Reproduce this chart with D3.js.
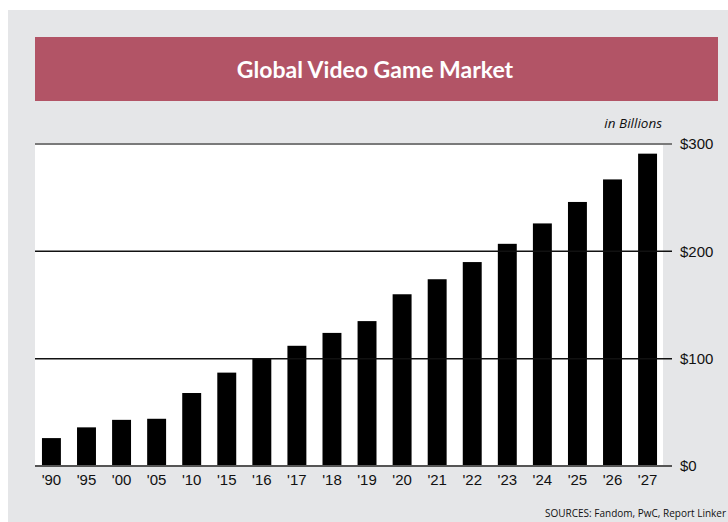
<!DOCTYPE html>
<html lang="en">
<head>
    <meta charset="UTF-8">
    <title>Global Video Game Market</title>
    <script src="https://d3js.org/d3.v7.min.js"></script>
    <style>
        body {
            margin: 0;
            background-color: #ffffff;
        }
        .axis text {
            font-family: 'Liberation Sans Narrow', 'Liberation Sans', Arial, sans-serif;
            font-size: 15px;
            fill: #111;
        }
        .axis path {
            display: none;
        }
    </style>
</head>
<body>
    <svg width="728" height="522" class="chart"></svg>

    <script>
        // Chart data (values in billions USD)
        const years = ["'90", "'95", "'00", "'05", "'10", "'15", "'16", "'17", "'18", "'19",
                       "'20", "'21", "'22", "'23", "'24", "'25", "'26", "'27"];
        const revenue = [26, 36, 43, 44, 68, 87, 100, 112, 124, 135,
                         160, 174, 190, 207, 226, 246, 267, 291];
        const yTicks = [0, 100, 200, 300];
        const yTickLabels = ["$0", "$100", "$200", "$300"];

        const data = years.map((y, i) => ({ year: y, value: revenue[i] }));

        const svg = d3.select(".chart");
        const plot = { left: 35, right: 663, top: 144, bottom: 466 };

        // Grey panel
        svg.append("rect")
            .attr("x", 8).attr("y", 10)
            .attr("width", 720).attr("height", 512)
            .attr("fill", "#e5e6e8");

        // Title banner
        svg.append("rect")
            .attr("x", 35).attr("y", 37)
            .attr("width", 683).attr("height", 64)
            .attr("fill", "#b25466");

        svg.append("text")
            .attr("x", 375).attr("y", 78)
            .attr("text-anchor", "middle")
            .style("font-family", "Lato, 'Open Sans', sans-serif")
            .style("font-weight", "bold")
            .style("font-size", "23px")
            .style("fill", "#ffffff")
            .text("Global Video Game Market");

        // White plot background
        svg.append("rect")
            .attr("x", plot.left).attr("y", plot.top)
            .attr("width", plot.right - plot.left).attr("height", plot.bottom - plot.top)
            .attr("fill", "#ffffff");

        // Scales
        const xScale = d3.scaleBand()
            .domain(years)
            .range([36, 663])
            .paddingInner(0.46)
            .paddingOuter(0.17);

        const yScale = d3.scaleLinear()
            .domain([0, 300])
            .range([plot.bottom, plot.top]);

        // Bars
        svg.selectAll(".bar")
            .data(data)
            .enter()
            .append("rect")
            .attr("class", "bar")
            .attr("x", d => xScale(d.year))
            .attr("y", d => yScale(d.value))
            .attr("width", xScale.bandwidth())
            .attr("height", d => plot.bottom - yScale(d.value))
            .attr("fill", "#000000");

        // Gridlines
        svg.selectAll(".grid")
            .data(yTicks)
            .enter()
            .append("line")
            .attr("class", "grid")
            .attr("x1", plot.left)
            .attr("x2", 672)
            .attr("y1", d => yScale(d))
            .attr("y2", d => yScale(d))
            .attr("stroke", d => (d === 300 ? "#7a7a7a" : d === 0 ? "#555555" : "#111111"))
            .attr("stroke-width", d => (d === 300 || d === 0 ? 2 : 1.5));

        // Y axis on the right
        const yAxis = d3.axisRight(yScale)
            .tickValues(yTicks)
            .tickSize(0)
            .tickPadding(0)
            .tickFormat((d, i) => yTickLabels[i]);

        svg.append("g")
            .attr("class", "axis axis--y")
            .attr("transform", "translate(680, 0)")
            .call(yAxis);

        // X axis
        const xAxis = d3.axisBottom(xScale).tickSize(0).tickPadding(8);

        svg.append("g")
            .attr("class", "axis axis--x")
            .attr("transform", `translate(0, ${plot.bottom})`)
            .call(xAxis);

        // Unit label
        svg.append("text")
            .attr("x", 662).attr("y", 128)
            .attr("text-anchor", "end")
            .style("font-family", "'Open Sans', sans-serif")
            .style("font-style", "italic")
            .style("font-size", "13.5px")
            .style("fill", "#111")
            .text("in Billions");

        // Sources
        svg.append("text")
            .attr("x", 726).attr("y", 517)
            .attr("text-anchor", "end")
            .style("font-family", "'Open Sans', sans-serif")
            .style("font-size", "10px")
            .style("fill", "#111")
            .text("SOURCES: Fandom, PwC, Report Linker");
    </script>
</body>
</html>
